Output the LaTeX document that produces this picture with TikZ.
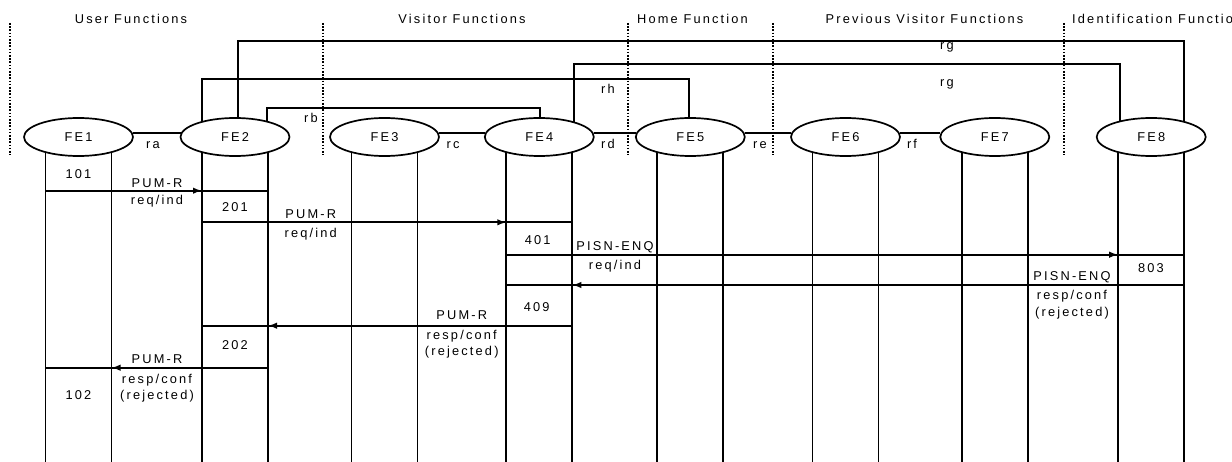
\documentclass[tikz,border=0pt]{standalone}
\usepackage{fontspec}
\setmainfont{Liberation Sans}[LetterSpace=17]
\usetikzlibrary{backgrounds,calc,arrows.meta,shapes.geometric}
\begin{document}
\begin{tikzpicture}[x=1pt,y=-1pt,
  font=\fontsize{12.8pt}{14.5pt}\selectfont,
  fe/.style={draw,ellipse,line width=1.7pt,fill=white,minimum width=109pt,minimum height=38pt,inner sep=0pt},
  ln/.style={line width=1.7pt},
  msg/.style={line width=1.7pt,-{Latex[length=9pt,width=6.5pt]}},
  sepline/.style={line width=1.7pt,dash pattern=on 1.6pt off 1.6pt},
  lbl/.style={inner sep=0pt,text height=8.5pt,text depth=2pt},
]
\useasboundingbox (0,0) rectangle (1232,462);

% separators
\foreach \sx in {10,323,627.7,772.7,1063.7}
  \draw[sepline] (\sx,23) -- (\sx,155);

% headers
\node[lbl] (h1) at (131,20) {User Functions};
\node[lbl] (h2) at (462,20) {Visitor Functions};
\node[lbl] (h3) at (692.5,20) {Home Function};
\node[lbl] (h4) at (924.5,20) {Previous Visitor Functions};
\node[lbl,anchor=west] (h5) at (1072,20) {Identification Function};

% functional entities
\node[fe] (FE1) at (78.5,137) {FE1};
\node[fe] (FE2) at (235,137) {FE2};
\node[fe] (FE3) at (384.5,137) {FE3};
\node[fe] (FE4) at (539.3,137) {FE4};
\node[fe] (FE5) at (690.3,137) {FE5};
\node[fe] (FE6) at (845.5,137) {FE6};
\node[fe] (FE7) at (994.8,137) {FE7};
\node[fe] (FE8) at (1151.2,137) {FE8};

\foreach \i in {1,...,8}{
  \coordinate (FE\i l) at ($(FE\i.center)+(-33,0)$);
  \coordinate (FE\i r) at ($(FE\i.center)+(33,0)$);
  \coordinate (FE\i lb) at (FE\i l |- 0,462);
  \coordinate (FE\i rb) at (FE\i r |- 0,462);
}

\begin{pgfonlayer}{background}
  % lifelines
  \foreach \i in {1,...,8}{
    \draw[ln] (FE\i l) -- (FE\i lb);
    \draw[ln] (FE\i r) -- (FE\i rb);
  }
  % upper relationships
  \draw[ln] ([xshift=2.7pt]FE2.center) -- ++(0,-96.3) -| ([xshift=32.5pt]FE8.center);
  \draw[ln] ([xshift=-33pt]FE2.center) -- ++(0,-58) -| ([xshift=-1.6pt]FE5.center);
  \draw[ln] ([xshift=31.7pt]FE2.center) -- ++(0,-28.7) -| ([xshift=0.4pt]FE4.center);
  \draw[ln] ([xshift=34.7pt]FE4.center) -- ++(0,-73) -| ([xshift=-30.9pt]FE8.center);
\end{pgfonlayer}

% horizontal relationships
\draw[ln] (FE1.4) -- (FE2.176);
\draw[ln] (FE3.4) -- (FE4.176);
\draw[ln] (FE4.4) -- (FE5.176);
\draw[ln] (FE5.4) -- (FE6.176);
\draw[ln] (FE6.4) -- (FE7.176);

% relationship labels
\node[lbl] (ra) at (153,145.7) {ra};
\node[lbl] (rb) at (311,119) {rb};
\node[lbl] (rc) at (453,145) {rc};
\node[lbl] (rd) at (608,145) {rd};
\node[lbl] (rh) at (608,90.7) {rh};
\node[lbl] (re) at (760,145) {re};
\node[lbl] (rf) at (912,145) {rf};
\node[lbl] (rg1) at (947,46.7) {rg};
\node[lbl] (rg2) at (947,83.3) {rg};

% messages
\draw[ln] (FE1l |- 0,190.7) -- (FE2r |- 0,190.7);
\draw[msg] (FE1r |- 0,190.7) -- (FE2l |- 0,190.7);
\draw[ln] (FE2l |- 0,222.3) -- (FE4r |- 0,222.3);
\draw[msg] (FE2r |- 0,222.3) -- (FE4l |- 0,222.3);
\draw[ln] (FE4l |- 0,254.7) -- (FE8r |- 0,254.7);
\draw[msg] (FE4r |- 0,254.7) -- (FE8l |- 0,254.7);
\draw[ln] (FE8r |- 0,285) -- (FE4l |- 0,285);
\draw[msg] (FE8l |- 0,285) -- (FE4r |- 0,285);
\draw[ln] (FE4r |- 0,325.7) -- (FE2l |- 0,325.7);
\draw[msg] (FE4l |- 0,325.7) -- (FE2r |- 0,325.7);
\draw[ln] (FE2r |- 0,367.7) -- (FE1l |- 0,367.7);
\draw[msg] (FE2l |- 0,367.7) -- (FE1r |- 0,367.7);

% message labels
\node[lbl] (n101) at (78.5,175) {101};
\node[lbl] (m1a) at (157,184) {PUM-R};
\node[lbl] (m1b) at (157,201.7) {req/ind};
\node[lbl] (n201) at (235,208.7) {201};
\node[lbl] (m2a) at (310.7,215.7) {PUM-R};
\node[lbl] (m2b) at (310.7,234.3) {req/ind};
\node[lbl] (n401) at (537.7,241.7) {401};
\node[lbl] (m3a) at (615,247.3) {PISN-ENQ};
\node[lbl] (m3b) at (615,266.7) {req/ind};
\node[lbl] (n803) at (1151,269.3) {803};
\node[lbl] (m4a) at (1072,277.3) {PISN-ENQ};
\node[lbl] (m4b) at (1072,296.7) {resp/conf};
\node[lbl] (m4c) at (1072,313.3) {(rejected)};
\node[lbl] (n409) at (536.7,308.3) {409};
\node[lbl] (m5a) at (461.7,316) {PUM-R};
\node[lbl] (m5b) at (461.7,336) {resp/conf};
\node[lbl] (m5c) at (461.7,352) {(rejected)};
\node[lbl] (n202) at (235,346.7) {202};
\node[lbl] (m6a) at (157,360) {PUM-R};
\node[lbl] (m6b) at (157,380) {resp/conf};
\node[lbl] (m6c) at (157,396) {(rejected)};
\node[lbl] (n102) at (78.5,396.7) {102};
\end{tikzpicture}
\end{document}
